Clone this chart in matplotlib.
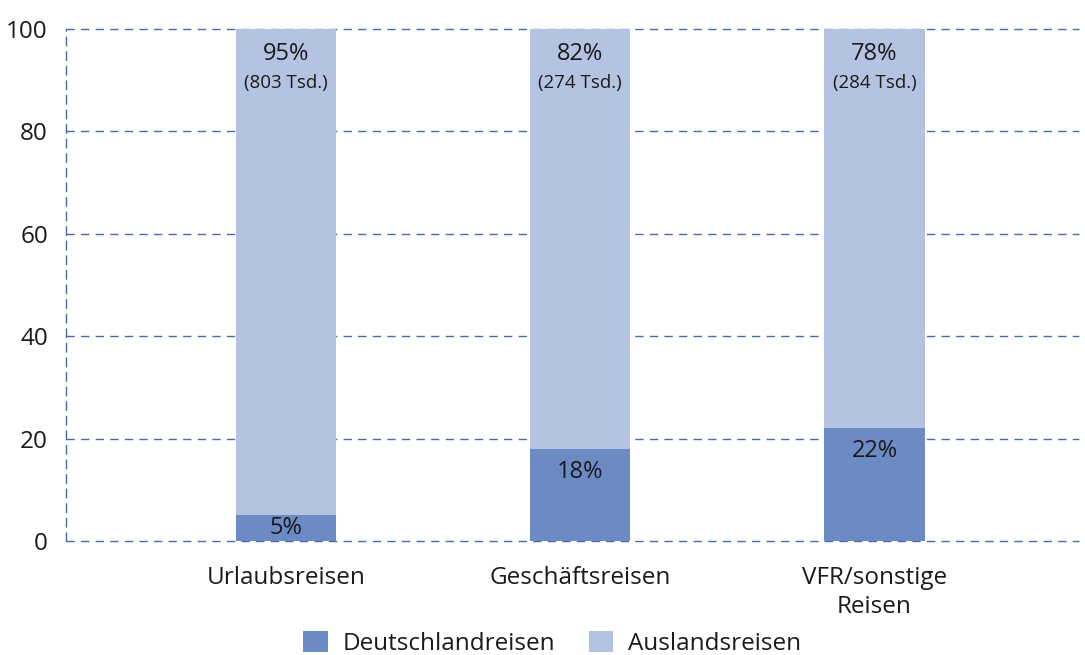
import matplotlib
matplotlib.use("Agg")
import matplotlib.pyplot as plt
import numpy as np

categories = ["Urlaubsreisen", "Geschäftsreisen", "VFR/sonstige\nReisen"]
deutschland = [5, 18, 22]
ausland = [95, 82, 78]
ausland_tsd = ["(803 Tsd.)", "(274 Tsd.)", "(284 Tsd.)"]
yticks = [0, 20, 40, 60, 80, 100]
series_names = ["Deutschlandreisen", "Auslandsreisen"]

plt.rcParams['font.family'] = ['Open Sans', 'DejaVu Sans']
plt.rcParams['font.weight'] = 'normal'

c_dark = "#6c8ac4"
c_light = "#b5c3e3"
grid_c = "#4a6aa6"
txt_c = "#1a1a1a"

fig = plt.figure(figsize=(10.85, 6.55), dpi=100)
ax = fig.add_axes([0.0608, 0.174, 0.934, 0.782])

x = np.arange(len(categories))
w = 0.34
ax.bar(x, deutschland, w, color=c_dark, label=series_names[0], zorder=2)
ax.bar(x, ausland, w, bottom=deutschland, color=c_light, label=series_names[1], zorder=2)

for xi, d, a, t in zip(x, deutschland, ausland, ausland_tsd):
    ax.text(xi, d / 2 if d < 10 else d - 4.5, f"{d}%", ha="center", va="center",
            fontsize=17, color=txt_c, zorder=3)
    ax.text(xi, 95.0, f"{a}%", ha="center", va="center", fontsize=17, color=txt_c, zorder=3)
    ax.text(xi, 89.4, t, ha="center", va="center", fontsize=13.5, color=txt_c, zorder=3)

ax.set_ylim(0, 100)
ax.set_xlim(-0.747, 2.696)
ax.set_yticks(yticks)
ax.set_yticklabels([str(v) for v in yticks], fontsize=17.5, color=txt_c)
ax.set_xticks(x)
ax.set_xticklabels(categories, fontsize=17.5, color=txt_c, linespacing=1.3)
ax.tick_params(axis="both", length=0)
ax.tick_params(axis="y", pad=13)
ax.tick_params(axis="x", pad=18)

for v in yticks:
    ax.axhline(v, color=grid_c, lw=1.0, ls=(0, (6.0, 4.5)), zorder=1, clip_on=False)

for s in ["top", "right", "bottom"]:
    ax.spines[s].set_visible(False)
ax.spines["left"].set_color(grid_c)
ax.spines["left"].set_linewidth(1.0)
ax.spines["left"].set_linestyle((0, (6.0, 4.5)))

leg = fig.legend(loc="center", bbox_to_anchor=(0.509, 0.018), ncol=2, frameon=False,
                 fontsize=17.5, handlelength=1.0, handleheight=1.0, handletextpad=0.6,
                 columnspacing=1.4, borderpad=0)
for t in leg.get_texts():
    t.set_color(txt_c)

fig.savefig("out.png", dpi=100)
